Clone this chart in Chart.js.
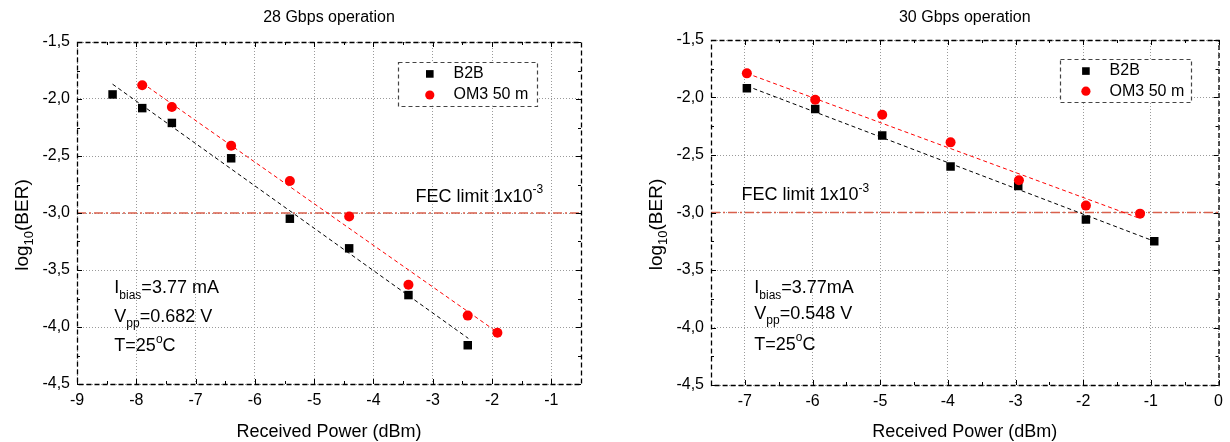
<!DOCTYPE html>
<html><head><meta charset="utf-8">
<script src="https://cdn.jsdelivr.net/npm/chart.js@4.4.0/dist/chart.umd.min.js"></script>
<style>
html,body{margin:0;padding:0;background:#fff;}
#wrap{position:relative;width:1230px;height:442px;overflow:hidden;background:#fff;}
canvas{position:absolute;top:0;}
</style></head><body>
<div id="wrap">
<canvas id="c1" width="620" height="442" style="left:0px"></canvas>
<canvas id="c2" width="610" height="442" style="left:620px"></canvas>
</div>
<script>
// ---------- data: 28 Gbps ----------
const xB2B_28 = [-8.40, -7.90, -7.40, -6.40, -5.41, -4.41, -3.41, -2.41];
const yB2B_28 = [-1.96, -2.08, -2.21, -2.52, -3.05, -3.31, -3.72, -4.16];
const xOM3_28 = [-7.90, -7.40, -6.40, -5.41, -4.41, -3.41, -2.41, -1.91];
const yOM3_28 = [-1.88, -2.07, -2.41, -2.72, -3.03, -3.63, -3.90, -4.05];
const xFitB2B_28 = [-8.40, -2.40];
const yFitB2B_28 = [-1.87, -4.10];
const xFitOM3_28 = [-7.90, -1.90];
const yFitOM3_28 = [-1.86, -4.05];
const xTicks_28 = [-9, -8, -7, -6, -5, -4, -3, -2, -1];
const xRange_28 = [-9, -0.5];
const params_28 = ["3.77 mA", "0.682 V", "25"];

// ---------- data: 30 Gbps ----------
const xB2B_30 = [-6.97, -5.96, -4.97, -3.96, -2.96, -1.96, -0.95];
const yB2B_30 = [-1.92, -2.10, -2.33, -2.60, -2.77, -3.06, -3.25];
const xOM3_30 = [-6.97, -5.96, -4.97, -3.96, -2.95, -1.96, -1.16];
const yOM3_30 = [-1.79, -2.02, -2.15, -2.39, -2.72, -2.94, -3.01];
const xFitB2B_30 = [-6.97, -0.95];
const yFitB2B_30 = [-1.90, -3.25];
const xFitOM3_30 = [-6.97, -1.17];
const yFitOM3_30 = [-1.79, -3.05];
const xTicks_30 = [-7, -6, -5, -4, -3, -2, -1, 0];
const xRange_30 = [-7.5, 0];
const params_30 = ["3.77mA", "0.548 V", "25"];

// ---------- shared ----------
const yTicks = [-4.5, -4.0, -3.5, -3.0, -2.5, -2.0, -1.5];
const yRange = [-4.5, -1.5];
const fecLevel = -3.0;
const seriesNames = ["B2B", "OM3 50 m"];
const titles = ["28 Gbps operation", "30 Gbps operation"];
const xTitle = "Received Power (dBm)";

const FONT = "'Liberation Sans', Arial, Helvetica, sans-serif";
const RED = "#ff0000";
const FECCOL = "#d9604c";

function zip(xs, ys) { return xs.map((x, i) => ({x: x, y: ys[i]})); }

function drawRich(ctx, x, y, parts, align) {
  let total = 0;
  parts.forEach(p => { ctx.font = p.size + "px " + FONT; p.w = ctx.measureText(p.t).width; total += p.w; });
  let cx = align === 'center' ? x - total / 2 : x;
  ctx.textAlign = 'left';
  ctx.textBaseline = 'middle';
  parts.forEach(p => {
    ctx.font = p.size + "px " + FONT;
    ctx.fillText(p.t, cx, y + (p.dy || 0));
    cx += p.w;
  });
}

function makeChart(id, W, box, d) {
  const H = 442;
  const framePlugin = {
    id: 'frame' + id,
    afterDraw(chart) {
      const ctx = chart.ctx, xs = chart.scales.x, ys = chart.scales.y, ca = chart.chartArea;
      ctx.save();
      ctx.fillStyle = '#000';
      ctx.strokeStyle = '#000';
      // ticks (inward, all four sides)
      ctx.lineWidth = 1;
      ctx.setLineDash([]);
      ctx.beginPath();
      const xMinor = [];
      d.xTicks.forEach(v => { xMinor.push(v + 0.5); xMinor.push(v - 0.5); });
      d.xTicks.forEach(v => {
        const px = Math.round(xs.getPixelForValue(v)) + 0.5;
        ctx.moveTo(px, ca.bottom); ctx.lineTo(px, ca.bottom - 5);
        ctx.moveTo(px, ca.top); ctx.lineTo(px, ca.top + 5);
      });
      xMinor.forEach(v => {
        if (v <= d.xRange[0] || v >= d.xRange[1]) return;
        const px = Math.round(xs.getPixelForValue(v)) + 0.5;
        ctx.moveTo(px, ca.bottom); ctx.lineTo(px, ca.bottom - 3);
        ctx.moveTo(px, ca.top); ctx.lineTo(px, ca.top + 3);
      });
      yTicks.forEach(v => {
        const py = Math.round(ys.getPixelForValue(v)) + 0.5;
        ctx.moveTo(ca.left, py); ctx.lineTo(ca.left + 5, py);
        ctx.moveTo(ca.right, py); ctx.lineTo(ca.right - 5, py);
        const m = v + 0.25;
        if (m < yRange[1]) {
          const pm = Math.round(ys.getPixelForValue(m)) + 0.5;
          ctx.moveTo(ca.left, pm); ctx.lineTo(ca.left + 3, pm);
          ctx.moveTo(ca.right, pm); ctx.lineTo(ca.right - 3, pm);
        }
      });
      ctx.stroke();
      // dashed frame
      ctx.lineWidth = 1.3;
      ctx.setLineDash([5, 3]);
      ctx.strokeRect(ca.left + 0.5, ca.top + 0.5, ca.right - ca.left, ca.bottom - ca.top);

      // legend box
      const lx1 = xs.getPixelForValue(d.leg.x1), lx2 = xs.getPixelForValue(d.leg.x2);
      const ly1 = ys.getPixelForValue(d.leg.y1), ly2 = ys.getPixelForValue(d.leg.y2);
      ctx.fillStyle = '#fff';
      ctx.fillRect(lx1, ly1, lx2 - lx1, ly2 - ly1);
      ctx.strokeStyle = '#444';
      ctx.lineWidth = 1.2;
      ctx.setLineDash([4, 3]);
      ctx.strokeRect(Math.round(lx1) + 0.5, Math.round(ly1) + 0.5, Math.round(lx2 - lx1), Math.round(ly2 - ly1));
      ctx.setLineDash([]);
      const mx = xs.getPixelForValue(d.leg.mx), tx = xs.getPixelForValue(d.leg.tx);
      const r1 = ys.getPixelForValue(d.leg.r1), r2 = ys.getPixelForValue(d.leg.r2);
      ctx.fillStyle = '#000';
      ctx.fillRect(mx - 3.8, r1 - 3.8, 7.6, 7.6);
      ctx.fillStyle = RED;
      ctx.beginPath(); ctx.arc(mx, r2, 4.6, 0, Math.PI * 2); ctx.fill();
      ctx.fillStyle = '#000';
      drawRich(ctx, tx, r1, [{t: seriesNames[0], size: 16}]);
      drawRich(ctx, tx, r2, [{t: seriesNames[1], size: 16}]);

      // FEC label
      drawRich(ctx, xs.getPixelForValue(d.fecLab[0]), ys.getPixelForValue(d.fecLab[1]),
        [{t: 'FEC limit 1x10', size: 18}, {t: '-3', size: 12, dy: -7}]);

      // operating parameters
      const ax = xs.getPixelForValue(d.ann.x);
      drawRich(ctx, ax, ys.getPixelForValue(d.ann.y[0]),
        [{t: 'I', size: 18}, {t: 'bias', size: 12, dy: 7}, {t: '=' + d.params[0], size: 18}]);
      drawRich(ctx, ax, ys.getPixelForValue(d.ann.y[1]),
        [{t: 'V', size: 18}, {t: 'pp', size: 12, dy: 7}, {t: '=' + d.params[1], size: 18}]);
      drawRich(ctx, ax, ys.getPixelForValue(d.ann.y[2]),
        [{t: 'T=' + d.params[2], size: 18}, {t: 'o', size: 12, dy: -7}, {t: 'C', size: 18}]);

      // titles
      const cxp = (ca.left + ca.right) / 2;
      drawRich(ctx, cxp, 18, [{t: d.title, size: 16}], 'center');
      drawRich(ctx, cxp, 432, [{t: xTitle, size: 18}], 'center');
      // y title rotated
      ctx.save();
      ctx.translate(d.yTitleX, (ca.top + ca.bottom) / 2 + 12);
      ctx.rotate(-Math.PI / 2);
      drawRich(ctx, 0, 0, [{t: 'log', size: 19}, {t: '10', size: 13, dy: 6}, {t: '(BER)', size: 19}], 'center');
      ctx.restore();
      ctx.restore();
    }
  };

  return new Chart(document.getElementById(id), {
    type: 'scatter',
    data: {
      datasets: [
        {label: seriesNames[1], data: zip(d.xO, d.yO), pointStyle: 'circle', pointRadius: 5,
         backgroundColor: RED, borderColor: RED, borderWidth: 0, showLine: false, order: 1},
        {label: seriesNames[0], data: zip(d.xB, d.yB), pointStyle: 'rect', pointRadius: 6,
         backgroundColor: '#000', borderColor: '#000', borderWidth: 0, showLine: false, order: 2},
        {label: 'fitO', data: zip(d.fxO, d.fyO), showLine: true, pointRadius: 0, borderColor: RED,
         borderWidth: 1, borderDash: [4, 3], fill: false, order: 3},
        {label: 'fitB', data: zip(d.fxB, d.fyB), showLine: true, pointRadius: 0, borderColor: '#000',
         borderWidth: 1, borderDash: [4, 3], fill: false, order: 4},
        {label: 'FEC', data: zip(d.xRange, [fecLevel, fecLevel]), showLine: true, pointRadius: 0,
         borderColor: FECCOL, borderWidth: 1.3, borderDash: [9, 3, 2, 3], fill: false, order: 5}
      ]
    },
    options: {
      responsive: false, animation: false, events: [],
      layout: {autoPadding: false, padding: {left: 0, right: W - box.right, top: box.top, bottom: 0}},
      plugins: {legend: {display: false}, title: {display: false}, tooltip: {enabled: false}},
      scales: {
        x: {
          type: 'linear', position: 'bottom', min: d.xRange[0], max: d.xRange[1],
          afterBuildTicks: s => { s.ticks = d.xTicks.map(v => ({value: v})); },
          afterFit: s => { s.height = H - box.bottom; },
          grid: {color: '#9a9a9a', lineWidth: 1, drawTicks: false},
          border: {display: false, dash: [1, 2]},
          ticks: {padding: 7, color: '#000', font: {family: FONT, size: 16}, maxRotation: 0, autoSkip: false,
                  callback: v => String(v)}
        },
        y: {
          type: 'linear', position: 'left', min: yRange[0], max: yRange[1],
          afterBuildTicks: s => { s.ticks = yTicks.map(v => ({value: v})); },
          afterFit: s => { s.width = box.left; },
          grid: {color: '#9a9a9a', lineWidth: 1, drawTicks: false},
          border: {display: false, dash: [1, 2]},
          ticks: {padding: 7, color: '#000', font: {family: FONT, size: 16}, autoSkip: false,
                  callback: v => Number(v).toFixed(1).replace('.', ',')}
        }
      }
    },
    plugins: [framePlugin]
  });
}

makeChart('c1', 620, {left: 77, right: 581, top: 42, bottom: 384}, {
  xB: xB2B_28, yB: yB2B_28, xO: xOM3_28, yO: yOM3_28,
  fxB: xFitB2B_28, fyB: yFitB2B_28, fxO: xFitOM3_28, fyO: yFitOM3_28,
  xTicks: xTicks_28, xRange: xRange_28, params: params_28, title: titles[0],
  leg: {x1: -3.58, x2: -1.24, y1: -1.673, y2: -2.058, mx: -3.05, tx: -2.65, r1: -1.78, r2: -1.965},
  fecLab: [-3.29, -2.86],
  ann: {x: -8.37, y: [-3.66, -3.91, -4.17]},
  yTitleX: 23
});

makeChart('c2', 610, {left: 91, right: 603, top: 40, bottom: 385}, {
  xB: xB2B_30, yB: yB2B_30, xO: xOM3_30, yO: yOM3_30,
  fxB: xFitB2B_30, fyB: yFitB2B_30, fxO: xFitOM3_30, fyO: yFitOM3_30,
  xTicks: xTicks_30, xRange: xRange_30, params: params_30, title: titles[1],
  leg: {x1: -2.35, x2: -0.41, y1: -1.665, y2: -2.04, mx: -1.96, tx: -1.61, r1: -1.77, r2: -1.945},
  fecLab: [-7.05, -2.85],
  ann: {x: -6.86, y: [-3.66, -3.88, -4.15]},
  yTitleX: 37
});
</script>
</body></html>
